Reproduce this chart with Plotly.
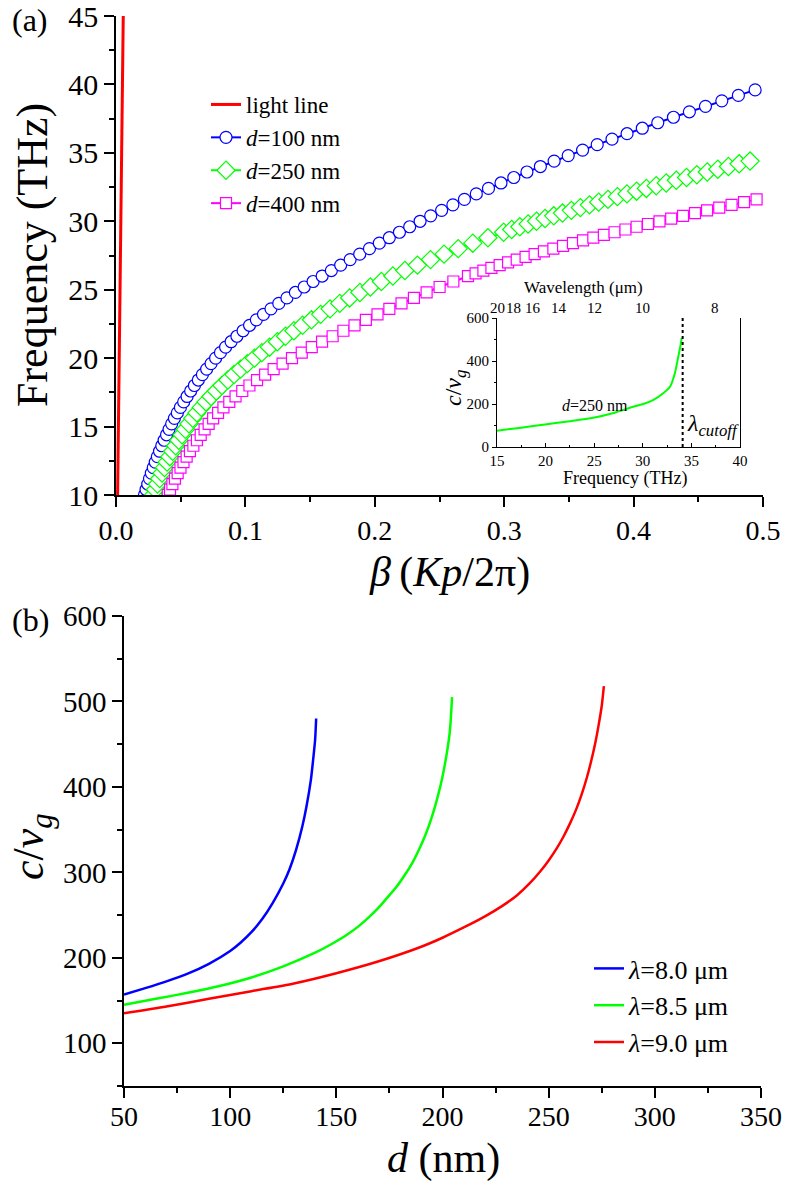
import plotly.graph_objects as go

FONT = "Liberation Serif, Times New Roman, serif"
W, H = 787, 1181

# ---------------- Panel (a) data ----------------
light_beta = [0.0, 0.0056]
light_freq = [0.0, 45.0]

freq_d100 = [10.0, 10.4, 10.8, 11.2, 11.6, 12.0, 12.4, 12.8, 13.2, 13.6, 14.0, 14.4, 14.8,
             15.2, 15.6, 16.0, 16.4, 16.8, 17.2, 17.6, 18.0, 18.4, 18.8, 19.2, 19.6,
             20.0, 20.4, 20.8, 21.2, 21.6, 22.0, 22.4, 22.8, 23.2, 23.6, 24.0, 24.4, 24.8,
             25.2, 25.6, 26.0, 26.4, 26.8, 27.2, 27.6, 28.0, 28.4, 28.8, 29.2, 29.6,
             30.0, 30.4, 30.8, 31.2, 31.6, 32.0, 32.4, 32.8, 33.2, 33.6, 34.0, 34.4, 34.8,
             35.2, 35.6, 36.0, 36.4, 36.8, 37.2, 37.6, 38.0, 38.4, 38.8, 39.2, 39.6]
beta_d100 = [0.0220, 0.02323, 0.02453, 0.02589, 0.02731, 0.0288, 0.03035, 0.03197, 0.03365,
             0.03539, 0.0372, 0.03907, 0.04101,
             0.04302, 0.04514, 0.0474, 0.04978, 0.0523, 0.05494, 0.0577, 0.0606, 0.06362,
             0.06678, 0.07006, 0.07346,
             0.077, 0.08073, 0.08471, 0.08895, 0.09345, 0.0982, 0.10321, 0.10847, 0.11399,
             0.11977, 0.1258, 0.13209, 0.13863,
             0.14541, 0.15232, 0.15932, 0.16643, 0.17364, 0.18095, 0.18836, 0.19588, 0.2035,
             0.21122, 0.21905, 0.22697,
             0.235, 0.2432, 0.25165, 0.26033, 0.26927, 0.27844, 0.28786, 0.29752, 0.30742,
             0.31757, 0.32796, 0.33859, 0.34947,
             0.36058, 0.37187, 0.38332, 0.39494, 0.40673, 0.41869, 0.43081, 0.4431, 0.45555,
             0.46818, 0.48097, 0.49392]

freq_d250 = [10.0, 10.4, 10.8, 11.2, 11.6, 12.0, 12.4, 12.8, 13.2, 13.6, 14.0, 14.4, 14.8,
             15.2, 15.6, 16.0, 16.4, 16.8, 17.2, 17.6, 18.0, 18.4, 18.8, 19.2, 19.6,
             20.0, 20.4, 20.8, 21.2, 21.6, 22.0, 22.4, 22.8, 23.2, 23.6, 24.0, 24.4, 24.8,
             25.2, 25.6, 26.0, 26.4, 26.8, 27.2, 27.6, 28.0, 28.4, 28.8, 29.2,
             29.4, 29.6, 29.8, 30.0, 30.2, 30.4, 30.6, 30.8, 31.0, 31.2, 31.4, 31.6, 31.8,
             32.0, 32.2, 32.4, 32.6, 32.8, 33.0, 33.2, 33.4, 33.6, 33.8, 34.0, 34.2, 34.4]
beta_d250 = [0.029, 0.03049, 0.03209, 0.03378, 0.03558, 0.03748, 0.03948, 0.04159, 0.0438,
             0.04611, 0.04852, 0.05104, 0.05365,
             0.05639, 0.05934, 0.06252, 0.06593, 0.06957, 0.07345, 0.07755, 0.08188, 0.08644,
             0.09124, 0.09626, 0.10152,
             0.107, 0.1127, 0.1186, 0.12469, 0.13099, 0.13748, 0.14417, 0.15106, 0.15815,
             0.16544, 0.17292, 0.1806, 0.18849,
             0.19659, 0.20507, 0.21396, 0.22325, 0.23294, 0.24304, 0.25354, 0.26444, 0.27575,
             0.28745, 0.29957,
             0.30577, 0.31208, 0.31849, 0.325, 0.3316, 0.33829, 0.34506, 0.35192, 0.35887,
             0.3659, 0.37301, 0.38021, 0.3875, 0.39487, 0.40233, 0.40987, 0.4175, 0.42521,
             0.43301, 0.4409, 0.44887, 0.45692, 0.46506, 0.47329, 0.4816, 0.49]

freq_d400 = [10.0, 10.4, 10.8, 11.2, 11.6, 12.0, 12.4, 12.8, 13.2, 13.6, 14.0, 14.4, 14.8,
             15.2, 15.6, 16.0, 16.4, 16.8, 17.2, 17.6, 18.0, 18.4, 18.8, 19.2, 19.6,
             20.0, 20.4, 20.8, 21.2, 21.6, 22.0, 22.4, 22.8, 23.2, 23.6, 24.0, 24.4, 24.8,
             25.2, 25.6, 26.0,
             26.2, 26.4, 26.6, 26.8, 27.0, 27.2, 27.4, 27.6, 27.8, 28.0, 28.2, 28.4, 28.6,
             28.8, 29.0, 29.2, 29.4, 29.6, 29.8, 30.0, 30.2, 30.4, 30.6, 30.8, 31.0, 31.2,
             31.4, 31.6]
beta_d400 = [0.040, 0.04174, 0.04359, 0.04556, 0.04764, 0.04984, 0.05215, 0.05458, 0.05713,
             0.05979, 0.06256, 0.06545, 0.06845,
             0.0716, 0.07507, 0.07888, 0.08304, 0.08754, 0.09239, 0.09758, 0.10312, 0.10901,
             0.11524, 0.12181, 0.12873,
             0.136, 0.14354, 0.15129, 0.15924, 0.1674, 0.17576, 0.18433, 0.1931, 0.20207,
             0.21125, 0.22064, 0.23023, 0.24003,
             0.25008, 0.26072, 0.272,
             0.27788, 0.28392, 0.29012, 0.29648, 0.303, 0.30968, 0.31652, 0.32352, 0.33068,
             0.338, 0.34548, 0.35312, 0.36092, 0.36888, 0.377, 0.38528, 0.39372, 0.40232,
             0.41108, 0.42, 0.42905, 0.43819, 0.44743, 0.45676, 0.46619, 0.47571, 0.48533,
             0.49504]

# ---------------- Inset data ----------------
inset_freq = [15.0, 17.5, 19.94, 22.5, 24.9, 27.0, 29.0, 30.2, 31.1, 32.1, 32.8, 33.3,
              33.65, 33.85, 34.0]
inset_cvg = [76, 90, 105, 120, 136, 158, 187, 202, 219, 250, 280, 343, 420, 465, 508]
cutoff_freq = [34.1, 34.1]
cutoff_cvg = [0, 600]
wavelength_ticks = [8, 9, 10, 11, 12, 13, 14, 15, 16, 17, 18, 19]
wavelength_labels = [20, 18, 16, 14, 12, 10, 8]

# ---------------- Panel (b) data ----------------
d_80 = [50, 60, 70, 80, 90, 100, 105, 110, 115, 120, 125, 128, 131, 134, 136, 138, 139, 140, 140.5]
cvg_80 = [157, 164.5, 172.5, 181.5, 193, 208, 218, 230, 245, 264, 287, 304, 326, 354, 378, 408, 430, 455, 480]
d_85 = [50, 65, 80, 95, 110, 125, 140, 148, 155, 161, 166, 170, 174, 178, 182, 186, 189, 192,
        195, 198, 200, 202, 203.5, 204.5]
cvg_85 = [145, 152, 159, 167, 177, 190, 206, 216.5, 227, 238, 249, 259, 270.5, 282, 296, 312,
          327, 344, 365, 391, 412, 439, 466, 505]
d_90 = [50, 70, 90, 110, 130, 150, 170, 190, 200, 210, 220, 228, 235, 241, 246, 250, 254, 257,
        260, 263, 265.5, 268, 270, 272, 273.5, 275, 276]
cvg_90 = [135, 143, 152, 161, 170, 182, 196, 213, 223.5, 235.5, 248.5, 260.5, 273, 287, 301,
          314, 329, 342, 357, 374, 391, 411, 430, 452, 472, 495, 518]

C_LIGHT = 299.792458  # THz * um


def px(x):
    return x / W


def py(y):
    return 1 - y / H


fig = go.Figure()

# Panel (a)
fig.add_trace(go.Scatter(x=light_beta, y=light_freq, mode="lines", name="light line",
                         line=dict(color="#ff0000", width=3), xaxis="x", yaxis="y"))
fig.add_trace(go.Scatter(x=beta_d100, y=freq_d100, mode="lines+markers", name="<i>d</i>=100 nm",
                         line=dict(color="#0000ff", width=2),
                         marker=dict(symbol="circle", size=12, color="white",
                                     line=dict(color="#0000ff", width=1.2)),
                         xaxis="x", yaxis="y"))
fig.add_trace(go.Scatter(x=beta_d250, y=freq_d250, mode="lines+markers", name="<i>d</i>=250 nm",
                         line=dict(color="#00ff00", width=2),
                         marker=dict(symbol="diamond", size=14, color="white",
                                     line=dict(color="#00ff00", width=1.2)),
                         xaxis="x", yaxis="y"))
fig.add_trace(go.Scatter(x=beta_d400, y=freq_d400, mode="lines+markers", name="<i>d</i>=400 nm",
                         line=dict(color="#ff00ff", width=2),
                         marker=dict(symbol="square", size=11, color="white",
                                     line=dict(color="#ff00ff", width=1.2)),
                         xaxis="x", yaxis="y"))

# Inset
fig.add_trace(go.Scatter(x=inset_freq, y=inset_cvg, mode="lines", showlegend=False,
                         line=dict(color="#00ff00", width=2, shape="spline", smoothing=0.6),
                         xaxis="x3", yaxis="y3"))
fig.add_trace(go.Scatter(x=cutoff_freq, y=cutoff_cvg, mode="lines", showlegend=False,
                         line=dict(color="black", width=2, dash="dot"),
                         xaxis="x3", yaxis="y3"))

# Panel (b)
fig.add_trace(go.Scatter(x=d_80, y=cvg_80, mode="lines", name="<i>λ</i>=8.0 μm", legend="legend2",
                         line=dict(color="#0000ff", width=2.5, shape="spline", smoothing=0.7),
                         xaxis="x2", yaxis="y2"))
fig.add_trace(go.Scatter(x=d_85, y=cvg_85, mode="lines", name="<i>λ</i>=8.5 μm", legend="legend2",
                         line=dict(color="#00ff00", width=2.5, shape="spline", smoothing=0.7),
                         xaxis="x2", yaxis="y2"))
fig.add_trace(go.Scatter(x=d_90, y=cvg_90, mode="lines", name="<i>λ</i>=9.0 μm", legend="legend2",
                         line=dict(color="#ff0000", width=2.5, shape="spline", smoothing=0.7),
                         xaxis="x2", yaxis="y2"))

LW = 1.5


def tfont(size):
    return dict(family=FONT, size=size, color="black")


def base_axis(**kw):
    d = dict(showline=True, linewidth=LW, linecolor="black", ticks="outside", tickwidth=LW,
             tickcolor="black", showgrid=False, zeroline=False, automargin=False,
             ticklabeloverflow="allow", tickfont=tfont(28))
    d.update(kw)
    return d


def overlay_axis(**kw):
    d = dict(showline=True, linewidth=LW, linecolor="black", ticks="inside", tickwidth=LW,
             tickcolor="black", showgrid=False, zeroline=False, showticklabels=False,
             automargin=False)
    d.update(kw)
    return d


xa_dom = [px(116), px(763)]
ya_dom = [py(495), py(16)]
xb_dom = [px(124), px(761)]
yb_dom = [py(1086), py(616)]
xi_dom = [px(497), px(740)]
yi_dom = [py(447), py(318)]


def minor_out(dt, ln, w=LW):
    return dict(dtick=dt, ticklen=ln, tickwidth=w, tickcolor="black", ticks="outside", showgrid=False)


def minor_in(dt, ln, w=LW):
    return dict(dtick=dt, ticklen=ln, tickwidth=w, tickcolor="black", ticks="inside", showgrid=False)


fig.update_layout(
    template="none",
    width=W, height=H, margin=dict(l=0, r=0, t=0, b=0, autoexpand=False),
    paper_bgcolor="white", plot_bgcolor="white",
    font=dict(family=FONT, color="black"),
    xaxis=base_axis(domain=xa_dom, range=[0, 0.5], anchor="y", tick0=0, dtick=0.1,
                    tickformat=".1f", ticklen=10, minor=minor_out(0.05, 5)),
    yaxis=base_axis(domain=ya_dom, range=[10, 45], anchor="x", tick0=10, dtick=5,
                    ticklen=10, minor=minor_out(2.5, 5), tickfont=tfont(30)),
    xaxis4=overlay_axis(overlaying="x", side="top", anchor="y", range=[0, 0.5], tick0=0,
                        dtick=0.05, ticklen=8),
    yaxis4=overlay_axis(overlaying="y", side="right", anchor="x", range=[10, 45], tick0=10,
                        dtick=5, ticklen=8, minor=minor_in(2.5, 5)),
    xaxis2=base_axis(domain=xb_dom, range=[50, 350], anchor="y2", tick0=50, dtick=50,
                     ticklen=10, minor=minor_out(25, 5), ticklabelstandoff=-5),
    yaxis2=base_axis(domain=yb_dom, range=[50, 600], anchor="x2", tick0=100, dtick=100,
                     ticklen=10, minor=minor_out(50, 5), tickfont=tfont(29)),
    xaxis5=overlay_axis(overlaying="x2", side="top", anchor="y2", range=[50, 350], tick0=50,
                        dtick=25, ticklen=8),
    yaxis5=overlay_axis(overlaying="y2", side="right", anchor="x2", range=[50, 600], tick0=100,
                        dtick=100, ticklen=10, minor=minor_in(50, 5)),
    xaxis3=base_axis(domain=xi_dom, range=[15, 40], anchor="y3", tick0=15, dtick=5,
                     ticks="inside", ticklen=4, tickwidth=1, linewidth=1.2,
                     minor=minor_in(2.5, 2, 1), tickfont=tfont(15)),
    yaxis3=base_axis(domain=yi_dom, range=[0, 600], anchor="x3", tick0=0, dtick=200,
                     ticklen=4, tickwidth=1, linewidth=1.2, mirror=True,
                     minor=minor_out(100, 2, 1), tickfont=tfont(15)),
    xaxis6=overlay_axis(overlaying="x3", side="top", anchor="y3", range=[15, 40],
                        linewidth=1.2, ticklen=3, tickwidth=1,
                        tickmode="array", tickvals=[C_LIGHT / w for w in wavelength_ticks]),
    legend=dict(x=px(206), y=py(83), xanchor="left", yanchor="top", bgcolor="rgba(0,0,0,0)",
                font=tfont(23), tracegroupgap=0),
    legend2=dict(x=px(589), y=py(945), xanchor="left", yanchor="top", bgcolor="rgba(0,0,0,0)",
                 font=tfont(26), tracegroupgap=0),
)

annotations = [
    dict(text="(a)", x=px(30), y=py(20), font=dict(size=32)),
    dict(text="(b)", x=px(30), y=py(620), font=dict(size=32)),
    dict(text="Frequency (THz)", x=px(32), y=py(255), textangle=-90, font=dict(size=44)),
    dict(text="<i>β</i>\u2009(<i>Kp</i>/2π)", x=px(450), y=py(573), font=dict(size=42)),
    dict(text="<i>c</i>/<i>v</i><sub><i>g</i></sub>", x=px(31), y=py(847), textangle=-90,
         font=dict(size=44)),
    dict(text="<i>d</i> (nm)", x=px(444), y=py(1158), font=dict(size=42)),
    dict(text="Wavelength (μm)", x=px(583), y=py(287), font=dict(size=17)),
    dict(text="Frequency (THz)", x=px(625), y=py(479), font=dict(size=18)),
    dict(text="<i>c</i>/<i>v</i><sub><i>g</i></sub>", x=px(455), y=py(388), textangle=-90,
         font=dict(size=24)),
    dict(text="<i>d</i>=250 nm", x=px(595), y=py(405), font=dict(size=16)),
    dict(text="<i>λ</i><sub><i>cutoff</i></sub>", x=px(685), y=py(425), xanchor="left",
         font=dict(size=24)),
]
for a in annotations:
    a.setdefault("xanchor", "center")
    a.update(xref="paper", yref="paper", showarrow=False, yanchor="middle")
    a["font"].update(family=FONT, color="black")

# wavelength tick labels of the inset's top axis (kept inside the axis range)
for wl in wavelength_labels:
    annotations.append(dict(text=str(wl), x=max(C_LIGHT / wl, 15.0), xref="x3", y=py(308),
                            yref="paper", showarrow=False, xanchor="center", yanchor="middle",
                            font=tfont(15)))

fig.update_layout(annotations=annotations)

fig.write_html("out.html", config={"displayModeBar": False},
               post_script="document.body.style.margin='0';document.body.style.padding='0';")
